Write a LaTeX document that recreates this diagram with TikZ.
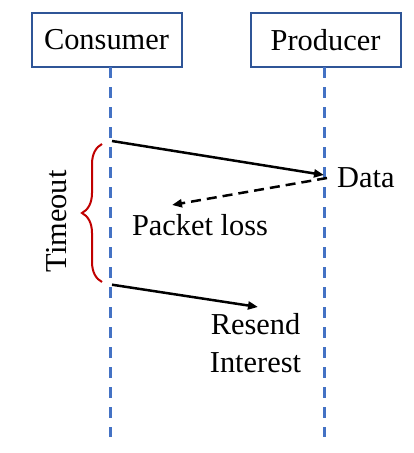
\documentclass[tikz,border=0pt]{standalone}
\usepackage{fontspec}
\setmainfont{Liberation Serif}
\usetikzlibrary{arrows.meta,decorations.pathreplacing}
\definecolor{boxblue}{HTML}{2F5597}
\definecolor{lifeblue}{HTML}{4472C4}
\definecolor{bracered}{HTML}{C00000}
\begin{document}
\begin{tikzpicture}[x=1pt,y=-1pt,
  actor/.style={draw=boxblue,line width=2pt,minimum width=150pt,minimum height=54pt,inner sep=0pt,font=\fontsize{30.4}{36}\selectfont},
  lifeline/.style={draw=lifeblue,line width=3pt,dash pattern=on 11pt off 9pt},
  msg/.style={draw=black,line width=2.5pt,-{Triangle[length=10pt,width=8pt]}},
  lost/.style={msg,dash pattern=on 10pt off 6pt},
  lbl/.style={font=\fontsize{30.4}{38}\selectfont,inner sep=0pt,anchor=base},
  brc/.style={draw=bracered,line width=2pt,decorate,decoration={brace,amplitude=20pt,raise=0pt}}]
\useasboundingbox (0,0) rectangle (414,453);
\node[actor] (cons) at (106.5,40) {Consumer};
\node[actor] (prod) at (325.5,40) {Producer};
\coordinate (ctop) at (110.3,67);
\coordinate (cbot) at (110.3,437);
\coordinate (ptop) at (324,67);
\coordinate (pbot) at (324,437);
\draw[lifeline] (ctop) -- (cbot);
\draw[lifeline] (ptop) -- (pbot);
\coordinate (s1) at (112,141);
\coordinate (e1) at (324,175);
\coordinate (s2) at (327,178);
\coordinate (e2) at (172,205);
\coordinate (s3) at (112,284.7);
\coordinate (e3) at (258,307);
\draw[msg] (s1) -- (e1);
\draw[lost] (s2) -- (e2);
\draw[msg] (s3) -- (e3);
\coordinate (bt) at (102,144);
\coordinate (bb) at (102,282);
\draw[brc] (bb) -- (bt);
\node[lbl,anchor=west] (data) at (337,178) {Data};
\node[lbl] (loss) at (200,235) {Packet loss};
\node[lbl,align=center,anchor=north] (resend) at (255.5,313) {Resend\\Interest};
\node[lbl,rotate=90,anchor=center] (timeout) at (57,221.5) {Timeout};
\end{tikzpicture}
\end{document}
